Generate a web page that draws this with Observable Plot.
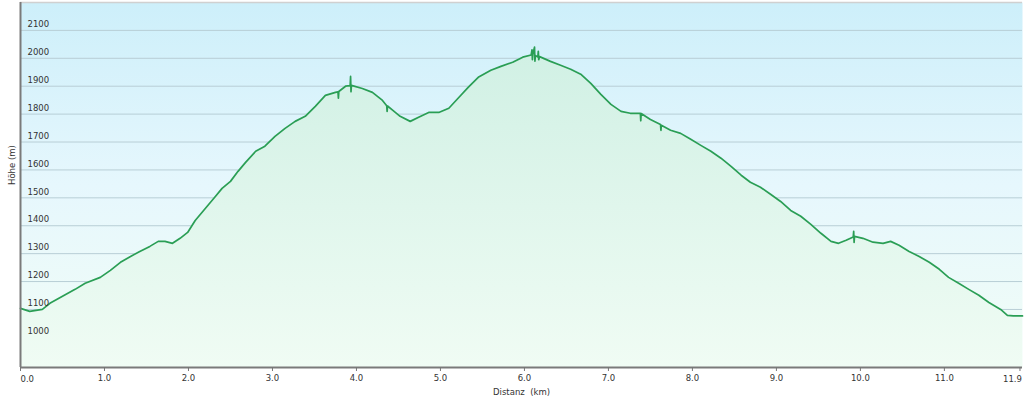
<!DOCTYPE html>
<html>
<head>
<meta charset="utf-8">
<script src="https://cdn.jsdelivr.net/npm/d3@7"></script>
<script src="https://cdn.jsdelivr.net/npm/@observablehq/plot@0.6"></script>
<style>
  html, body { margin: 0; padding: 0; background: #ffffff; }
  #chart { width: 1024px; height: 398px; }
  svg { font-family: "DejaVu Sans", Verdana, sans-serif; }
</style>
</head>
<body>
<div id="chart"></div>
<script>
// Distance along the route (km)
const distanceKm = [
  0.00, 0.11, 0.26, 0.35, 0.50, 0.65, 0.77, 0.95, 1.07, 1.19,
  1.31, 1.42, 1.54, 1.64, 1.72, 1.81, 1.90, 1.99, 2.08, 2.20,
  2.32, 2.40, 2.50, 2.59, 2.68, 2.80, 2.91, 3.03, 3.15, 3.27,
  3.39, 3.51, 3.63, 3.75, 3.78, 3.785, 3.79, 3.87, 3.925, 3.93,
  3.935, 3.94, 4.07, 4.19, 4.31, 4.36, 4.365, 4.37, 4.43, 4.52,
  4.64, 4.74, 4.86, 4.98, 5.10, 5.21, 5.33, 5.45, 5.60, 5.72,
  5.86, 5.98, 6.08, 6.09, 6.095, 6.10, 6.12, 6.125, 6.13, 6.16,
  6.165, 6.17, 6.18, 6.31, 6.43, 6.55, 6.67, 6.79, 6.91, 7.03,
  7.15, 7.26, 7.38, 7.385, 7.39, 7.50, 7.62, 7.625, 7.63, 7.74,
  7.86, 7.98, 8.10, 8.22, 8.34, 8.46, 8.58, 8.69, 8.81, 8.93,
  9.05, 9.17, 9.29, 9.41, 9.53, 9.65, 9.74, 9.83, 9.915, 9.92,
  9.925, 9.93, 10.03, 10.15, 10.27, 10.36, 10.46, 10.58, 10.70, 10.82,
  10.94, 11.05, 11.17, 11.29, 11.41, 11.53, 11.67, 11.75, 11.82, 11.93
];
// Elevation (m)
const elevationM = [
  1104, 1093, 1100, 1122, 1147, 1172, 1194, 1215, 1240, 1269,
  1290, 1308, 1326, 1344, 1344, 1337, 1355, 1376, 1419, 1462,
  1505, 1534, 1559, 1595, 1627, 1667, 1685, 1720, 1749, 1774,
  1792, 1828, 1867, 1878, 1880, 1857, 1881, 1900, 1902, 1935,
  1880, 1903, 1892, 1878, 1849, 1830, 1810, 1829, 1814, 1792,
  1774, 1789, 1806, 1806, 1821, 1857, 1896, 1932, 1957, 1971,
  1986, 2004, 2012, 2030, 1995, 2015, 2040, 1990, 2010, 2005,
  2025, 1995, 2006, 1989, 1975, 1961, 1943, 1910, 1871, 1835,
  1810, 1803, 1803, 1776, 1802, 1781, 1763, 1742, 1760, 1742,
  1731, 1710, 1688, 1667, 1642, 1613, 1581, 1556, 1538, 1513,
  1487, 1455, 1434, 1405, 1373, 1344, 1337, 1348, 1360, 1380,
  1340, 1362, 1355, 1341, 1337, 1344, 1330, 1308, 1290, 1269,
  1244, 1215, 1194, 1172, 1151, 1125, 1100, 1079, 1077, 1077
];
const yTicks = [1000, 1100, 1200, 1300, 1400, 1500, 1600, 1700, 1800, 1900, 2000, 2100];
const xTicks = [0, 1, 2, 3, 4, 5, 6, 7, 8, 9, 10, 11, 11.9];
const xLabel = "Distanz\u00a0 (km)";
const yLabel = "Höhe (m)";

const profile = distanceKm.map((d, i) => ({km: d, elev: elevationM[i]}));
const yMin = 892, yMax = 2200;
const fmt = d3.format(".1f");
const firstTick = xTicks[0], lastTick = xTicks[xTicks.length - 1];

const chart = Plot.plot({
  width: 1024,
  height: 398,
  marginLeft: 20,
  marginRight: 2,
  marginTop: 2,
  marginBottom: 31,
  style: {fontFamily: "DejaVu Sans, Verdana, sans-serif", fontSize: "8.5px", color: "#333", background: "#ffffff"},
  x: {domain: [0, 11.93]},
  y: {domain: [yMin, yMax], axis: null},
  marks: [
    Plot.frame({fill: "url(#bgGrad)", stroke: null}),
    Plot.ruleY(yTicks, {stroke: "#b8ced6", strokeWidth: 1}),
    Plot.areaY(profile, {x: "km", y1: () => yMin, y2: "elev", fill: "url(#areaGrad)"}),
    Plot.lineY(profile, {x: "km", y: "elev", stroke: "#2a9e55", strokeWidth: 1.7}),
    Plot.text(yTicks, {y: d => d, text: d => String(d), frameAnchor: "left", textAnchor: "start", dx: 7, dy: -6, fill: "#333", fontSize: 8.5}),
    Plot.ruleY([yMax], {stroke: "#d0d0d0", strokeWidth: 1.5}),
    Plot.ruleY([yMin], {stroke: "#7a7a7a", strokeWidth: 2}),
    Plot.ruleX([0], {stroke: "#7a7a7a", strokeWidth: 2}),
    Plot.axisX({ticks: xTicks, tickFormat: d => (d === firstTick || d === lastTick) ? "" : fmt(d), tickSize: 4, tickPadding: 3, stroke: "#777",
      label: xLabel, labelAnchor: "center", labelArrow: "none", labelOffset: 27, fill: "#333", fontSize: 8.5}),
    Plot.text([firstTick], {x: d => d, text: d => fmt(d), frameAnchor: "bottom", textAnchor: "start", dy: 14, fill: "#333", fontSize: 8.5}),
    Plot.text([lastTick], {x: d => d, text: d => fmt(d), frameAnchor: "bottom", textAnchor: "end", dx: 2, dy: 14, fill: "#333", fontSize: 8.5}),
    Plot.text([yLabel], {frameAnchor: "left", rotate: -90, dx: -8, fill: "#333", fontSize: 8.5})
  ]
});

const svg = d3.select(chart);
const defs = svg.insert("defs", ":first-child");
const bg = defs.append("linearGradient").attr("id", "bgGrad").attr("x1", 0).attr("y1", 0).attr("x2", 0).attr("y2", 1);
bg.append("stop").attr("offset", "0%").attr("stop-color", "#cdeffa");
bg.append("stop").attr("offset", "50%").attr("stop-color", "#e6f7fd");
bg.append("stop").attr("offset", "100%").attr("stop-color", "#f1fdf6");
const ag = defs.append("linearGradient").attr("id", "areaGrad").attr("x1", 0).attr("y1", 0).attr("x2", 0).attr("y2", 1);
ag.append("stop").attr("offset", "0%").attr("stop-color", "#d0f0e4");
ag.append("stop").attr("offset", "100%").attr("stop-color", "#f0fcf4");

document.getElementById("chart").appendChild(chart);
</script>
</body>
</html>
